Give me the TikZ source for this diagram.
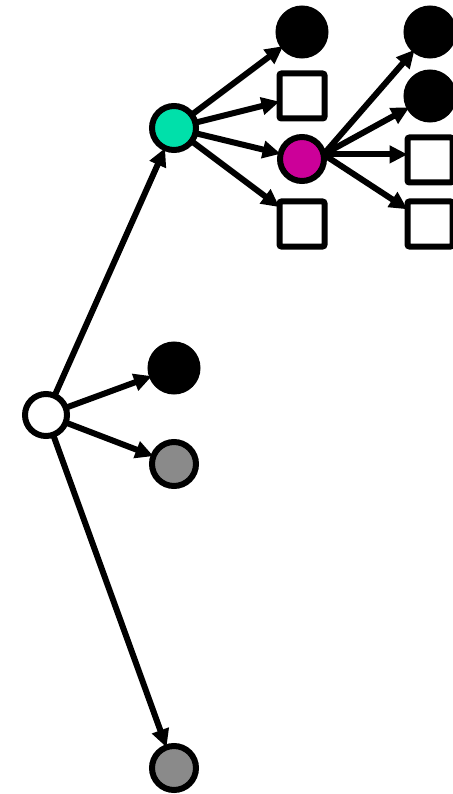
\documentclass[tikz,border=0pt]{standalone}
\usetikzlibrary{arrows.meta}
\begin{document}
\begin{tikzpicture}[x=1pt,y=-1pt,
  every node/.style={inner sep=0pt,outer sep=0pt,line width=6pt,draw=black},
  ring/.style={circle,minimum size=44pt},
  dot/.style={circle,fill=black,minimum size=47pt},
  box/.style={rectangle,fill=white,minimum size=45pt,rounded corners=2pt},
  link/.style={line width=6pt,-{Triangle[length=18pt,width=17pt]}}]
\useasboundingbox (0,0) rectangle (452,794);
\node[ring,fill=white,minimum size=42pt] (root) at (46,415) {};
\node[ring,fill={rgb,255:red,0;green,224;blue,170}] (t) at (174,128) {};
\node[dot] (m1) at (174,368) {};
\node[ring,fill={rgb,255:red,138;green,138;blue,138}] (g1) at (174,464) {};
\node[ring,fill={rgb,255:red,138;green,138;blue,138}] (g2) at (174,768) {};
\node[dot] (a1) at (302,32) {};
\node[box] (a2) at (302,96) {};
\node[ring,fill={rgb,255:red,204;green,0;blue,153}] (mg) at (302,159) {};
\node[box] (a4) at (302,224) {};
\node[dot] (b1) at (430,32) {};
\node[dot] (b2) at (430,96) {};
\node[box] (b3) at (430,160) {};
\node[box] (b4) at (430,224) {};
\draw[link] (root) -- (t);
\draw[link] (root) -- (m1);
\draw[link] (root) -- (g1);
\draw[link] (root) -- (g2);
\draw[link] (t) -- (a1);
\draw[link] (t) -- (a2);
\draw[link] (t) -- (mg);
\draw[link] (t) -- (a4);
\draw[link] (mg.12) -- (b1);
\draw[link] (mg.12) -- (b2);
\draw[link] (mg.12) -- (mg.12 -| b3.west);
\draw[link] (mg.12) -- (b4);
\end{tikzpicture}
\end{document}
